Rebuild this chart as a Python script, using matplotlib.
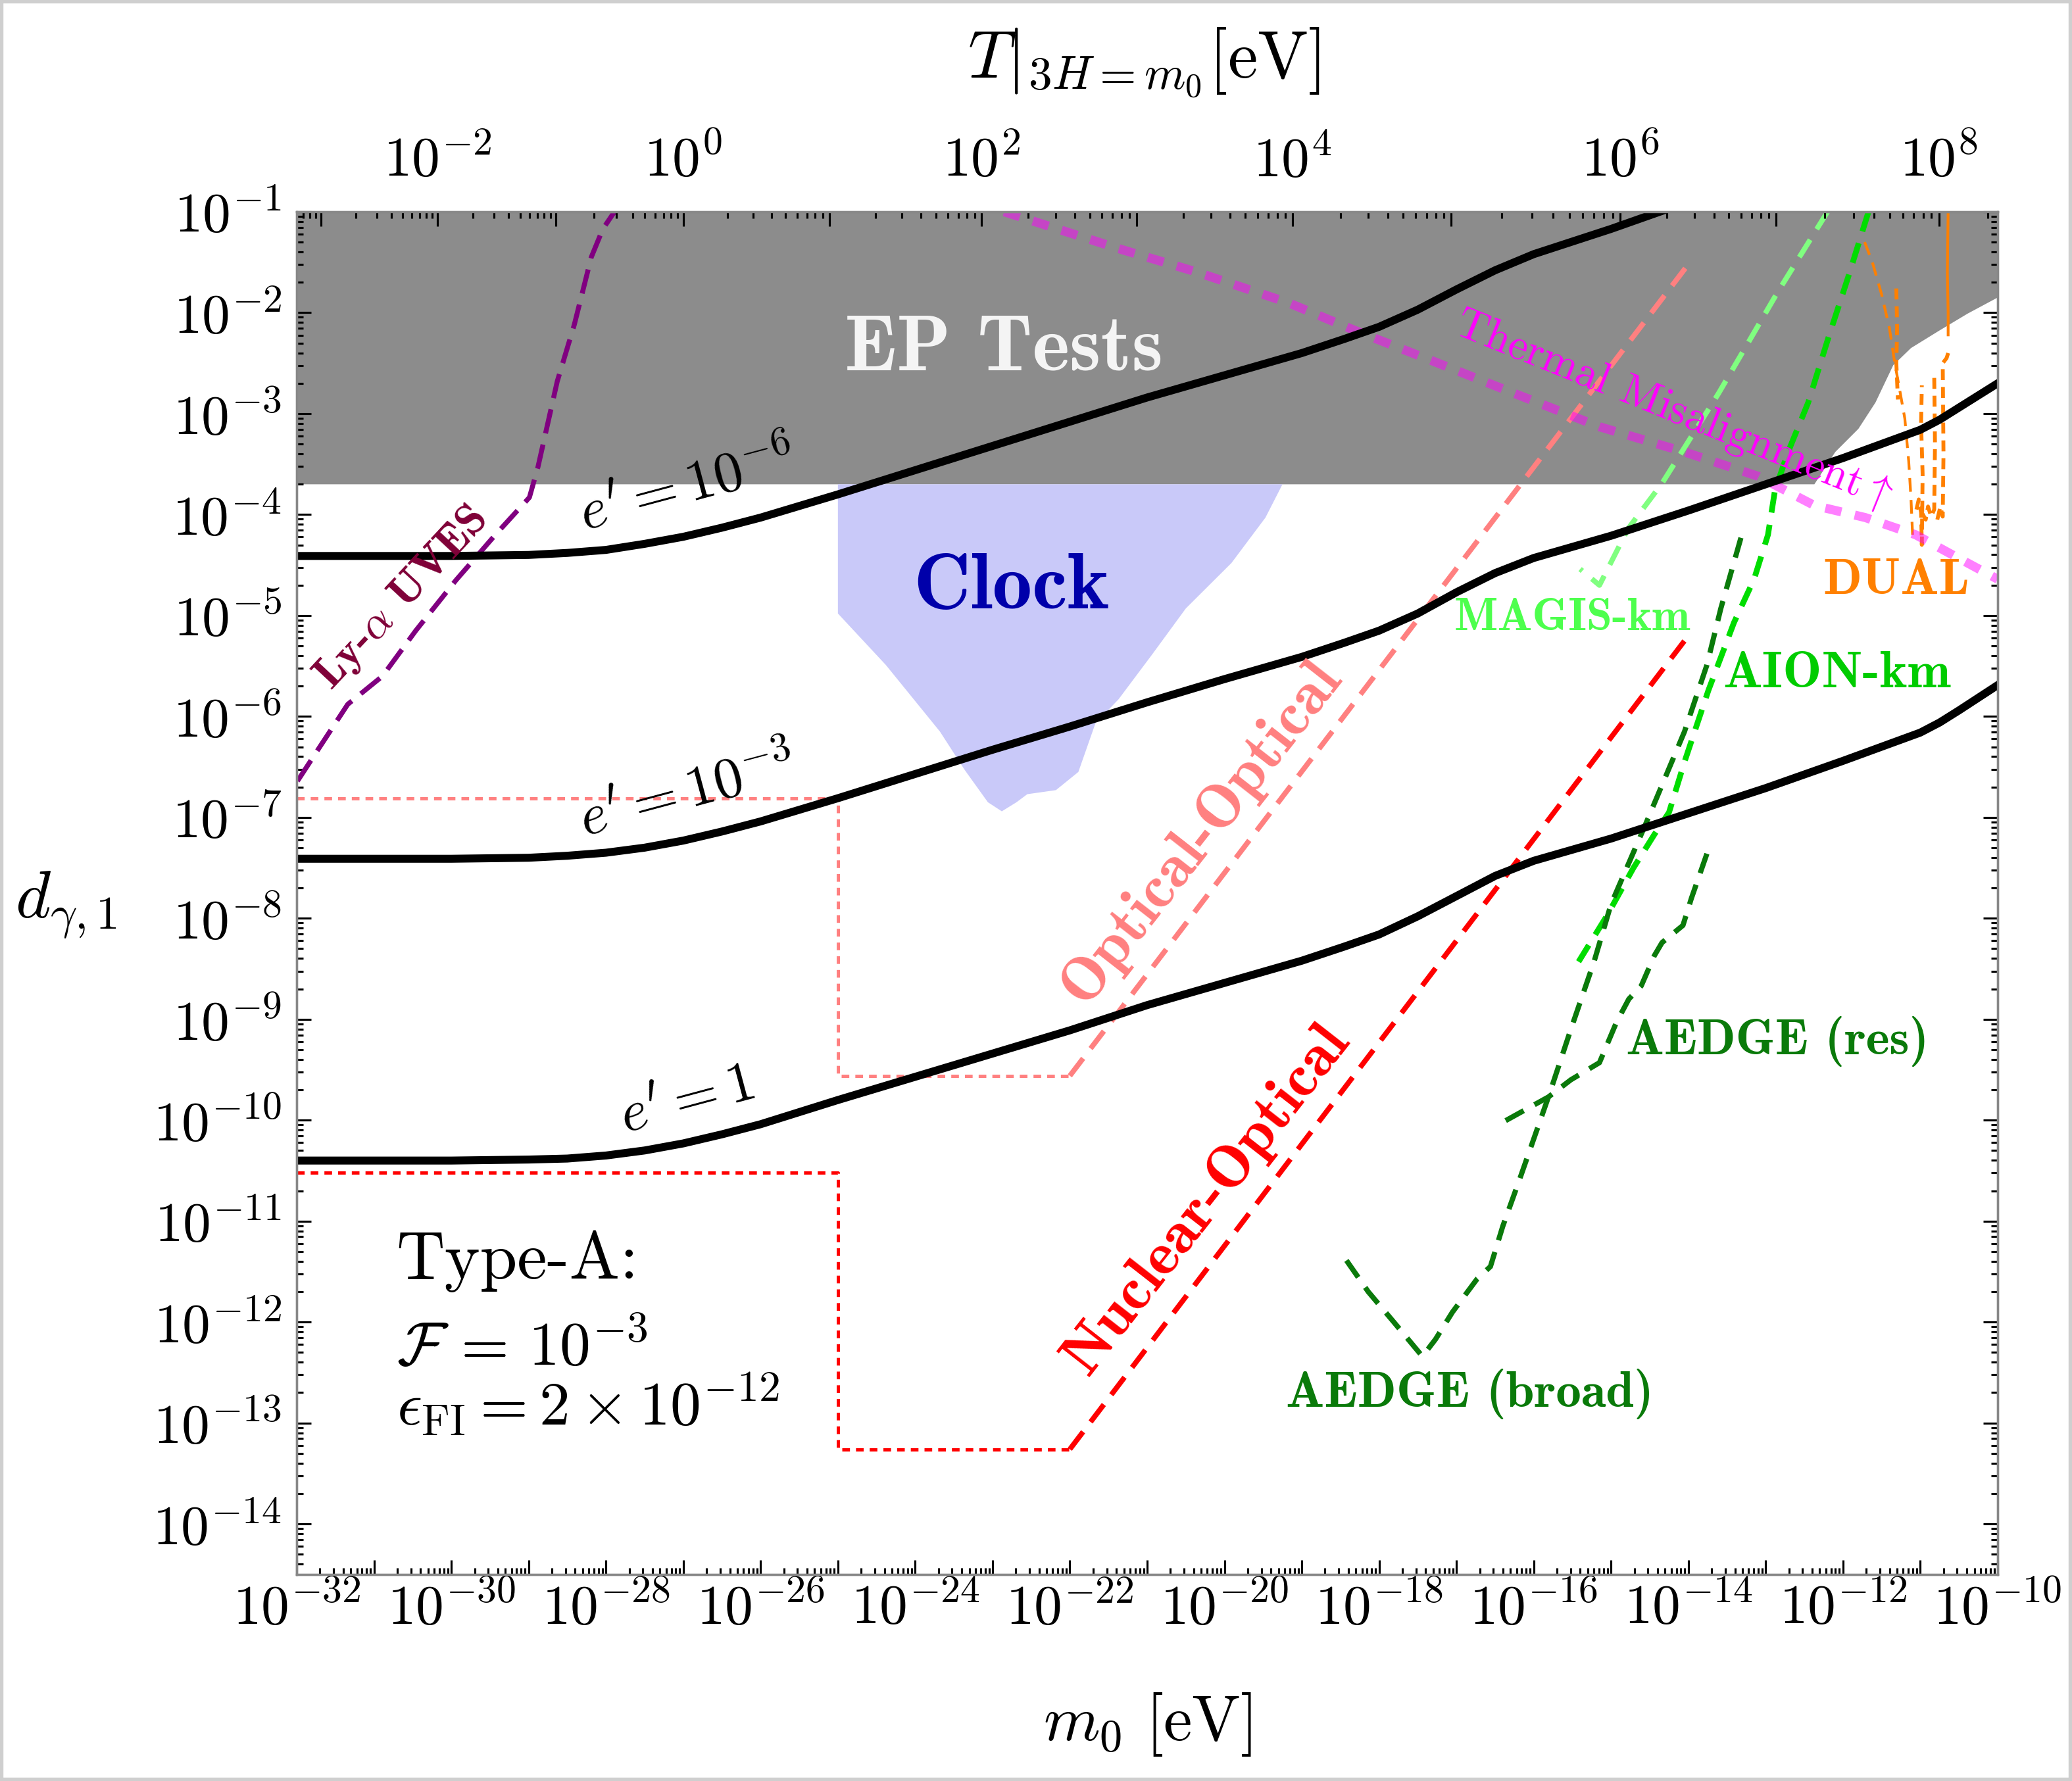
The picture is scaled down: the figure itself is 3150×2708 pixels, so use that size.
import numpy as np
import matplotlib
matplotlib.use('Agg')
import matplotlib.pyplot as plt
from matplotlib.patches import Rectangle
from matplotlib.ticker import FixedLocator, FuncFormatter, NullFormatter

plt.rcParams['mathtext.fontset'] = 'cm'
plt.rcParams['font.family'] = ['cmr10', 'DejaVu Serif']
plt.rcParams['axes.formatter.use_mathtext'] = True
plt.rcParams['lines.scale_dashes'] = False

# all values are log10 of (m0 [eV], d_gamma1)

# EP tests excluded region (upper boundary = top of the frame)
ep_x = [-32, -10, -10, -10.39, -10.76, -11.12, -11.35, -11.58, -11.80, -12.10, -12.37, -32]
ep_y = [-1, -1, -1.85, -2.01, -2.18, -2.35, -2.52, -2.89, -3.15, -3.38, -3.70, -3.70]

# clock region
clock_x = [-25.0, -25.0, -24.38, -23.68, -23.36, -23.06, -22.88, -22.69, -22.55, -22.18,
           -21.89, -21.67, -21.37, -20.93, -20.50, -19.91, -19.47, -19.25]
clock_y = [-3.70, -4.98, -5.49, -6.15, -6.53, -6.85, -6.94, -6.85, -6.77, -6.73,
           -6.55, -6.07, -5.83, -5.38, -4.93, -4.48, -4.03, -3.70]

# freeze-in curves, e' = 1e-6, 1e-3, 1
fi_x = [-32, -30, -29, -28.5, -28, -27.5, -27, -26.5, -26, -25, -24, -23, -22, -21, -20,
        -19, -18.45, -18, -17.5, -17, -16.5, -16, -15, -14, -13, -12, -11, -10.75, -10.5, -10]
e6_y = [-4.41, -4.41, -4.40, -4.38, -4.35, -4.29, -4.22, -4.13, -4.03, -3.80, -3.56,
        -3.32, -3.08, -2.84, -2.62, -2.40, -2.26, -2.14, -1.97, -1.77, -1.58, -1.42,
        -1.17, -0.90, -0.66, -0.40, -0.13, -0.02, 0.10, 0.35]
e3_y = [-7.41, -7.41, -7.40, -7.38, -7.35, -7.30, -7.23, -7.14, -7.04, -6.81, -6.57,
        -6.33, -6.10, -5.86, -5.63, -5.41, -5.27, -5.15, -4.98, -4.77, -4.58, -4.43,
        -4.21, -3.96, -3.70, -3.44, -3.16, -3.06, -2.94, -2.70]
e0_y = [-10.40, -10.40, -10.39, -10.38, -10.35, -10.30, -10.23, -10.14, -10.04, -9.80,
        -9.57, -9.34, -9.11, -8.86, -8.64, -8.42, -8.28, -8.16, -7.98, -7.78, -7.58,
        -7.43, -7.21, -6.96, -6.71, -6.44, -6.16, -6.06, -5.94, -5.69]

# Ly-alpha UVES
lya_x = [-31.99, -31.70, -31.34, -30.89, -30.46, -29.94, -29.43, -28.99, -28.88, -28.63,
         -28.41, -28.19, -28.04, -27.89]
lya_y = [-6.64, -6.30, -5.88, -5.60, -5.15, -4.65, -4.20, -3.83, -3.53, -2.68,
         -2.12, -1.45, -1.17, -1.0]

# optical-optical and nuclear-optical
oo_dot_x = [-32, -25, -25, -22]
oo_dot_y = [-6.815, -6.815, -9.56, -9.56]
oo_dash_x = [-22, -13.98]
oo_dash_y = [-9.56, -1.50]
no_dot_x = [-32, -25, -25, -22]
no_dot_y = [-10.52, -10.52, -13.26, -13.26]
no_dash_x = [-22, -13.98]
no_dash_y = [-13.26, -5.18]

# thermal misalignment
th_x = [-22.85, -21.37, -20.39, -19.18, -18.30, -17.27, -16.25, -15.15, -14.05, -13.10,
        -12.37, -11.71, -11.06, -10.63, -10.0]
th_y = [-1.0, -1.365, -1.59, -1.90, -2.18, -2.49, -2.80, -3.13, -3.38, -3.62,
        -3.91, -4.03, -4.20, -4.38, -4.64]

# atom interferometers
magis_x = [-12.20, -12.84, -13.61, -14.34, -14.78, -15.15, -15.40]
magis_y = [-1.0, -1.79, -2.80, -3.69, -4.14, -4.70, -4.54]
aion_x = [-11.67, -11.93, -12.19, -12.45, -12.71, -12.88, -12.97, -13.15, -13.41, -13.74,
          -14.05, -14.25, -14.44, -14.71, -15.05, -15.42]
aion_y = [-1.0, -1.64, -2.25, -2.89, -3.38, -3.76, -4.20, -4.64, -5.07, -5.74,
          -6.45, -6.95, -7.17, -7.50, -7.97, -8.43]
broad_x = [-13.32, -13.58, -13.76, -14.05, -14.56, -15.00, -15.22, -15.52, -15.81, -16.18,
           -16.40, -16.56, -16.73, -17.05, -17.27, -17.44, -17.81, -18.14, -18.44]
broad_y = [-4.23, -4.93, -5.49, -6.15, -7.08, -7.86, -8.43, -9.10, -9.77, -10.58,
           -11.05, -11.45, -11.57, -11.90, -12.17, -12.34, -12.00, -11.70, -11.37]
res_x = [-13.76, -13.96, -14.07, -14.34, -14.44, -14.61, -14.77, -14.93, -15.15, -15.52,
         -15.81, -16.40]
res_y = [-7.36, -7.80, -8.07, -8.24, -8.37, -8.67, -8.80, -9.03, -9.43, -9.60,
         -9.77, -10.02]

# DUAL
dual_curve_x = [-11.72, -11.62, -11.50, -11.40, -11.33, -11.27, -11.20, -11.15, -11.12, -11.10]
dual_curve_y = [-1.30, -1.50, -1.82, -2.15, -2.50, -2.75, -3.05, -3.47, -3.85, -4.20]
dual_solid_x = [-10.64, -10.65, -10.64, -10.64]
dual_solid_y = [-1.0, -1.6, -2.0, -2.22]
dual_l1_x = [-11.31, -11.30, -11.31, -11.29]
dual_l1_y = [-1.76, -2.15, -2.50, -2.86]
dual_l2_x = [-11.05, -11.02, -10.99, -10.98, -10.97, -10.99, -10.98]
dual_l2_y = [-3.95, -3.85, -3.98, -4.30, -3.60, -3.10, -2.72]
dual_l3_x = [-10.98, -10.93, -10.90, -10.86, -10.82, -10.81, -10.82]
dual_l3_y = [-3.98, -4.05, -3.92, -4.02, -3.95, -3.30, -2.63]
dual_l4_x = [-10.78, -10.74, -10.71, -10.70, -10.71, -10.66, -10.64]
dual_l4_y = [-4.05, -3.92, -4.02, -3.40, -2.50, -2.45, -2.40]

# top axis: log10 m0 where T|_{3H=m0} = 10^n
T_exp = [-3, -2, -1, 0, 1, 2, 3, 4, 5, 6, 7, 8]
T_mlog = [-31.685, -30.18, -28.65, -27.0, -25.11, -23.14, -21.14, -19.12, -17.07, -14.88, -12.87, -10.76]


def P(v):
    return 10.0 ** np.asarray(v, dtype=float)


fig = plt.figure(figsize=(10.5, 2708 / 300), dpi=300)
ax = fig.add_axes([0.1432, 0.1160, 0.8209, 0.7651])
ax.set_xscale('log')
ax.set_yscale('log')
ax.set_xlim(1e-32, 1e-10)
ax.set_ylim(10 ** -14.5, 1e-1)

ax.fill(P(ep_x), P(ep_y), color='#8c8c8c', lw=0, zorder=0.5)
ax.fill(P(clock_x), P(clock_y), color='#c9c9f9', lw=0, zorder=0.6)

ax.plot(P(lya_x), P(lya_y), color='#800080', lw=1.8, ls=(0, (9, 4.2)), zorder=2)

ax.plot(P(oo_dot_x), P(oo_dot_y), color='#ff8080', lw=1.2, ls=(0, (2.8, 2.2)), zorder=2)
ax.plot(P(oo_dash_x), P(oo_dash_y), color='#ff8080', lw=1.9, ls=(0, (8, 4.5)), zorder=2)
ax.plot(P(no_dot_x), P(no_dot_y), color='#ff0000', lw=1.2, ls=(0, (2.8, 2.2)), zorder=2)
ax.plot(P(no_dash_x), P(no_dash_y), color='#ff0000', lw=1.9, ls=(0, (8, 4.5)), zorder=2)

ax.plot(P(magis_x), P(magis_y), color='#80ff80', lw=1.9, ls=(0, (7.5, 4.5)), zorder=2)
ax.plot(P(aion_x), P(aion_y), color='#00dd00', lw=2.1, ls=(0, (7.5, 4.5)), zorder=2)
ax.plot(P(broad_x), P(broad_y), color='#0a7a0a', lw=1.9, ls=(0, (7.5, 4.5)), zorder=2)
ax.plot(P(res_x), P(res_y), color='#0a7a0a', lw=1.9, ls=(0, (7.5, 4.5)), zorder=2)

ax.plot(P(dual_curve_x), P(dual_curve_y), color='#ff8000', lw=1.0, ls=(0, (5, 3)), zorder=2)
ax.plot(P(dual_solid_x), P(dual_solid_y), color='#ff8000', lw=1.0, zorder=2)
for dx, dy in [(dual_l1_x, dual_l1_y), (dual_l2_x, dual_l2_y),
               (dual_l3_x, dual_l3_y), (dual_l4_x, dual_l4_y)]:
    ax.plot(P(dx), P(dy), color='#ff8000', lw=1.4, ls=(0, (4, 2.5)), zorder=2)

ax.plot(P(th_x), P(th_y), color='#ff00ff', alpha=0.5, lw=3.3, ls=(0, (6, 5)), zorder=2.5)

for cy in (e6_y, e3_y, e0_y):
    ax.plot(P(fi_x), P(cy), color='black', lw=2.9, solid_joinstyle='round', zorder=3)

# labels inside the plot
ax.text(P(-22.85), P(-2.37), 'EP Tests', fontfamily='cmb10', fontsize=29,
        color='#f4f4f4', ha='center', va='center', zorder=4)
ax.text(P(-22.76), P(-4.73), 'Clock', fontfamily='cmb10', fontsize=29,
        color='#0000aa', ha='center', va='center', zorder=4)
ax.text(P(-30.64), P(-4.83), r'Ly-$\alpha$ UVES', fontfamily='cmb10', fontsize=16.5,
        color='#7f0037', ha='center', va='center', rotation=47, rotation_mode='anchor', zorder=4)
ax.text(P(-20.30), P(-7.15), 'Optical-Optical', fontfamily='cmb10', fontsize=22.8,
        color='#ff8080', ha='center', va='center', rotation=52, rotation_mode='anchor', zorder=4)
ax.text(P(-20.22), P(-10.79), 'Nuclear-Optical', fontfamily='cmb10', fontsize=22.4,
        color='#ff0000', ha='center', va='center', rotation=52, rotation_mode='anchor', zorder=4)
ax.text(P(-14.20), P(-2.97), r'Thermal Misalignment$\uparrow$', fontsize=16,
        color='#ff00ff', ha='center', va='center', rotation=-22, rotation_mode='anchor', zorder=4)
ax.text(P(-15.50), P(-5.03), 'MAGIS-km', fontfamily='cmb10', fontsize=16.8,
        color='#4dff4d', ha='center', va='center', zorder=4)
ax.text(P(-12.08), P(-5.58), 'AION-km', fontfamily='cmb10', fontsize=19,
        color='#00cc00', ha='center', va='center', zorder=4)
ax.text(P(-11.31), P(-4.66), 'DUAL', fontfamily='cmb10', fontsize=18.5,
        color='#ff8000', ha='center', va='center', zorder=4)
ax.text(P(-12.85), P(-9.22), 'AEDGE (res)', fontfamily='cmb10', fontsize=18.4,
        color='#0a7a0a', ha='center', va='center', zorder=4)
ax.text(P(-16.83), P(-12.71), 'AEDGE (broad)', fontfamily='cmb10', fontsize=18.5,
        color='#0a7a0a', ha='center', va='center', zorder=4)

for ly, lab in [(-3.72, r"$e' = 10^{-6}$"), (-6.75, r"$e' = 10^{-3}$"), (-9.82, r"$e' = 1$")]:
    ax.text(P(-26.95), P(ly), lab, fontsize=21, ha='center', va='center',
            rotation=15, rotation_mode='anchor', zorder=4)

ax.text(P(-30.71), P(-11.57), 'Type-A:', fontsize=24.5, ha='left', va='baseline')
ax.text(P(-30.71), P(-12.43), r'$\mathcal{F}\,=\,10^{-3}$', fontsize=22.5, ha='left', va='baseline')
ax.text(P(-30.71), P(-13.02), r'$\epsilon_{\mathrm{FI}} = 2\times10^{-12}$', fontsize=22.5,
        ha='left', va='baseline')

# ticks
frame = '#888888'
for sp in ax.spines.values():
    sp.set_color(frame)
    sp.set_linewidth(0.8)

x_major = 10.0 ** np.arange(-32, -9)
x_minor = [k * 10.0 ** e for e in range(-32, -10) for k in range(2, 10)]
ax.xaxis.set_major_locator(FixedLocator(x_major))
ax.xaxis.set_minor_locator(FixedLocator(x_minor))
ax.xaxis.set_major_formatter(FuncFormatter(
    lambda v, pos: r'$10^{%d}$' % round(np.log10(v)) if round(np.log10(v)) % 2 == 0 else ''))
ax.xaxis.set_minor_formatter(NullFormatter())

y_major = 10.0 ** np.arange(-14, 0)
y_minor = [k * 10.0 ** e for e in range(-15, -1) for k in range(2, 10)
           if 10 ** -14.5 <= k * 10.0 ** e <= 0.1]
ax.yaxis.set_major_locator(FixedLocator(y_major))
ax.yaxis.set_minor_locator(FixedLocator(y_minor))
ax.yaxis.set_major_formatter(FuncFormatter(lambda v, pos: r'$10^{%d}$' % round(np.log10(v))))
ax.yaxis.set_minor_formatter(NullFormatter())

ax.tick_params(axis='both', which='both', direction='in', color='black', width=0.75)
ax.tick_params(axis='both', which='major', length=5.3, labelsize=20.5)
ax.tick_params(axis='both', which='minor', length=2.4)
ax.tick_params(axis='x', which='both', top=False, bottom=True, pad=3)
ax.tick_params(axis='y', which='both', left=True, right=True, labelright=False, pad=5.5)

ax.set_xlabel(r'$m_0\ [\mathrm{eV}]$', fontsize=23.5, va='center')
ax.xaxis.set_label_coords(0.5, -0.110)
ax.set_ylabel(r'$d_{\gamma,1}$', fontsize=24.5, rotation=0, ha='center', va='center')
ax.yaxis.set_label_coords(-0.1357, 0.4913)

# top axis in temperature
ax2 = ax.twiny()
ax2.set_xscale('log')
ax2.set_xlim(ax.get_xlim())
for sp in ax2.spines.values():
    sp.set_color(frame)
    sp.set_linewidth(0.8)
top_minor = []
for i in range(len(T_mlog) - 1):
    a, b = T_mlog[i], T_mlog[i + 1]
    for k in range(2, 10):
        top_minor.append(a + (b - a) * np.log10(k))
a0, b0 = T_mlog[0], T_mlog[1]
for k in range(2, 10):
    top_minor.append(a0 - (b0 - a0) * (1 - np.log10(k)))
a1, b1 = T_mlog[-2], T_mlog[-1]
for k in range(2, 10):
    top_minor.append(b1 + (b1 - a1) * np.log10(k))
top_minor = [10.0 ** m for m in top_minor if -32 <= m <= -10]
ax2.xaxis.set_major_locator(FixedLocator(P(T_mlog)))
ax2.xaxis.set_minor_locator(FixedLocator(top_minor))
ax2.xaxis.set_major_formatter(FuncFormatter(
    lambda v, pos: r'$10^{%d}$' % T_exp[pos] if T_exp[pos] % 2 == 0 else ''))
ax2.xaxis.set_minor_formatter(NullFormatter())
ax2.tick_params(axis='x', which='both', direction='in', color='black', width=0.75,
                top=True, bottom=False, pad=9)
ax2.tick_params(axis='x', which='major', length=5.3, labelsize=20.5)
ax2.tick_params(axis='x', which='minor', length=2.4)
ax2.set_xlabel(r'$T|_{3H=m_0}[\mathrm{eV}]$', fontsize=24.5, va='center')
ax2.xaxis.set_label_coords(0.498, 1.109)

fig.patches.append(Rectangle((0, 0), 1, 1, transform=fig.transFigure, fill=False,
                             edgecolor='#cfcfcf', lw=2.5))

fig.savefig('out.png', dpi=300)
